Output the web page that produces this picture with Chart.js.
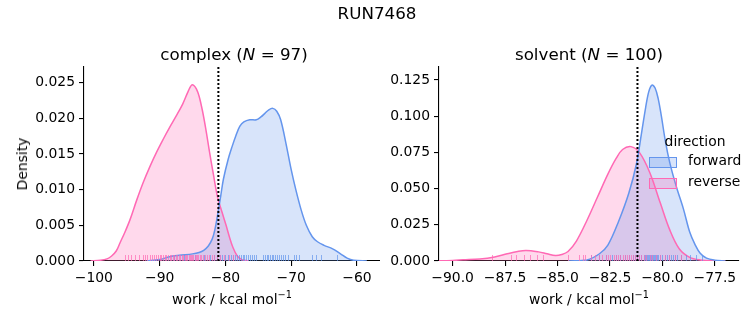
<!DOCTYPE html>
<html>
<head>
<meta charset="utf-8">
<script src="https://cdn.jsdelivr.net/npm/chart.js@4.4.1/dist/chart.umd.min.js"></script>
<style>
  body { margin: 0; width: 753px; height: 325px; position: relative; background: #fff; overflow: hidden;
         font-family: 'DejaVu Sans', sans-serif; color: #000; }
  canvas { position: absolute; top: 0; }
  .lbl { position: absolute; transform: translate(-50%, -50%); white-space: nowrap; z-index: 2; }
  .lbl sup { font-size: 70%; line-height: 0; }
</style>
</head>
<body>
<canvas id="chartL" width="380" height="325" style="left:0"></canvas>
<canvas id="chartR" width="373" height="325" style="left:380px"></canvas>

<div class="lbl" style="left:377px; top:13px; font-size:16.7px;">RUN7468</div>
<div class="lbl" style="left:234px; top:54px; font-size:16.7px;">complex (<i>N</i> = 97)</div>
<div class="lbl" style="left:589px; top:54px; font-size:16.7px;">solvent (<i>N</i> = 100)</div>
<div class="lbl" style="left:232px; top:299px; font-size:13.9px;">work / kcal mol<sup>&minus;1</sup></div>
<div class="lbl" style="left:589px; top:299px; font-size:13.9px;">work / kcal mol<sup>&minus;1</sup></div>
<div class="lbl" style="left:22px; top:164px; font-size:13.9px; transform:translate(-50%,-50%) rotate(-90deg);">Density</div>

<script>
// ---- complex leg: KDE curves ----
const complexFwdWork = [-92, -90, -88.5, -87, -85, -84, -83.3, -82.6, -82.0, -81.6, -81.2, -80.7, -80.3, -79.6, -79.0, -78.4, -77.8, -77.2, -76.3, -75.3, -74.6, -74.0, -73.4, -72.8, -72.2, -71.6, -70.8, -70.0, -69.3, -68.5, -67.7, -66.8, -66.0, -65.0, -63.7, -62.5, -61.5, -60.5, -58.5];
const complexFwdDensity = [0, 0.0002, 0.0006, 0.0008, 0.0010, 0.0012, 0.0015, 0.0021, 0.0031, 0.0044, 0.0064, 0.0092, 0.0115, 0.0142, 0.0160, 0.0176, 0.0189, 0.0195, 0.0198, 0.0198, 0.0202, 0.0207, 0.0212, 0.0214, 0.0210, 0.0198, 0.0165, 0.0128, 0.0100, 0.0072, 0.0050, 0.0034, 0.0027, 0.0022, 0.0017, 0.0010, 0.0004, 0.0001, 0];

const complexRevWork = [-100.5, -99, -98, -97.3, -96.6, -96.0, -95.3, -94.5, -93.5, -92.5, -91.5, -90.5, -89.5, -88.5, -87.5, -86.5, -85.8, -85.4, -85.1, -84.8, -84.4, -84.0, -83.5, -83.0, -82.4, -81.8, -81.2, -80.5, -79.9, -79.4, -78.9, -78.2, -77.5, -76.5];
const complexRevDensity = [0, 0.0001, 0.0003, 0.0007, 0.0014, 0.0026, 0.0040, 0.0058, 0.0085, 0.0110, 0.0132, 0.0152, 0.0170, 0.0187, 0.0203, 0.0220, 0.0235, 0.0243, 0.0247, 0.0246, 0.0241, 0.0231, 0.0211, 0.0186, 0.0152, 0.0120, 0.0090, 0.0068, 0.0050, 0.0034, 0.0020, 0.0007, 0.0002, 0];

// ---- solvent leg ----
const solventFwdWork = [-84.5, -83.6, -83.0, -82.6, -82.1, -81.6, -81.24, -81.0, -80.8, -80.65, -80.5, -80.35, -80.2, -80.05, -79.85, -79.65, -79.35, -79.0, -78.7, -78.45, -78.2, -77.9, -77.5, -77.0];
const solventFwdDensity = [0, 0.0007, 0.0050, 0.0110, 0.0270, 0.0470, 0.0670, 0.0880, 0.1060, 0.1170, 0.1215, 0.1195, 0.1120, 0.1000, 0.0820, 0.0680, 0.0520, 0.0360, 0.0200, 0.0115, 0.0053, 0.0020, 0.0006, 0];

const solventRevWork = [-91, -90, -89.5, -88.7, -88.0, -87.45, -86.9, -86.5, -85.9, -85.5, -85.1, -84.8, -84.5, -84.1, -83.6, -83.1, -82.6, -82.2, -81.9, -81.5, -81.1, -80.6, -80.1, -79.65, -79.2, -78.7, -78.2, -77.5, -77.0];
const solventRevDensity = [0, 0.0004, 0.0008, 0.0014, 0.0028, 0.0048, 0.0066, 0.0073, 0.0063, 0.0050, 0.0038, 0.0045, 0.0066, 0.0138, 0.0280, 0.0440, 0.0600, 0.0710, 0.0770, 0.0790, 0.0750, 0.0610, 0.0400, 0.0215, 0.0085, 0.0025, 0.0007, 0.0001, 0];

// rug samples (estimated positions)
const complexFwdRug = [-87.8, -86.3, -84.6, -83.2, -82.4, -81.8, -81.3, -80.9, -80.5, -80.1, -79.6, -79.2, -78.9, -78.6, -78.3, -78.0, -77.7, -77.4, -77.1, -76.8, -76.5, -76.3, -76.0, -75.7, -75.4, -74.3, -74.0, -73.7, -73.5, -73.2, -72.9, -72.7, -72.4, -72.1, -71.8, -71.5, -71.2, -70.9, -70.5, -69.6, -69.2, -68.8, -66.9, -66.2, -65.4, -63.1];
const complexRevRug = [-95.3, -94.8, -94.3, -93.8, -93.1, -92.6, -92.2, -91.9, -91.5, -91.2, -90.9, -90.6, -90.3, -90.0, -89.8, -89.5, -89.2, -89.0, -88.7, -88.5, -88.2, -88.0, -87.8, -87.5, -87.3, -87.1, -86.9, -86.6, -86.4, -86.2, -86.0, -85.8, -85.6, -85.4, -85.3, -85.1, -84.9, -84.7, -84.5, -84.3, -84.1, -83.9, -83.7, -83.4, -83.1, -82.8, -82.5, -82.1, -81.7, -81.3, -80.8, -80.2, -79.5, -78.9];
const solventFwdRug = [-83.4, -83.0, -82.7, -82.4, -82.2, -82.0, -81.8, -81.6, -81.4, -81.3, -81.2, -81.1, -81.0, -80.9, -80.85, -80.8, -80.75, -80.7, -80.65, -80.6, -80.55, -80.5, -80.45, -80.4, -80.35, -80.3, -80.25, -80.2, -80.1, -80.0, -79.9, -79.8, -79.7, -79.6, -79.5, -79.4, -79.3, -79.1, -78.9, -78.7, -78.4, -78.1];
const solventRevRug = [-88.1, -87.2, -87.0, -86.6, -86.3, -86.0, -85.7, -84.5, -84.0, -83.8, -83.7, -83.4, -83.2, -83.0, -82.9, -82.7, -82.6, -82.5, -82.3, -82.2, -82.1, -82.0, -81.9, -81.8, -81.7, -81.6, -81.5, -81.4, -81.3, -81.2, -81.1, -81.0, -80.9, -80.8, -80.6, -80.5, -80.3, -80.1, -79.9, -79.7, -79.4, -79.1];

// free energy estimate (dotted line)
const complexEstimate = -81.07;
const solventEstimate = -81.19;

// ticks
const complexWorkTicks = [-100, -90, -80, -70, -60];
const complexDensityTicks = [0, 0.005, 0.010, 0.015, 0.020, 0.025];
const solventWorkTicks = [-90, -87.5, -85, -82.5, -80, -77.5];
const solventDensityTicks = [0, 0.025, 0.050, 0.075, 0.100, 0.125];

const directions = ['forward', 'reverse'];
const lineColors = ['#6495ed', '#ff69b4'];
const fillColors = ['rgba(100,149,237,0.25)', 'rgba(255,105,180,0.25)'];
const rugColors = ['rgba(100,149,237,0.7)', 'rgba(255,105,180,0.7)'];

Chart.defaults.font.family = "'DejaVu Sans', sans-serif";
Chart.defaults.font.size = 13.9;
Chart.defaults.color = '#000';

const minus = s => s.replace('-', '\u2212');

const rugPlugin = {
    id: 'rug',
    afterDatasetsDraw(chart, args, opts) {
        const { ctx, chartArea, scales } = chart;
        ctx.save();
        ctx.lineWidth = 1;
        opts.sets.forEach((vals, i) => {
            ctx.strokeStyle = rugColors[i];
            vals.forEach(v => {
                const x = Math.round(scales.x.getPixelForValue(v)) + 0.5;
                ctx.beginPath();
                ctx.moveTo(x, chartArea.bottom);
                ctx.lineTo(x, chartArea.bottom - 6);
                ctx.stroke();
            });
        });
        // dotted estimate line
        const xv = scales.x.getPixelForValue(opts.estimate);
        ctx.strokeStyle = '#000';
        ctx.lineWidth = 2;
        ctx.setLineDash([2, 2]);
        ctx.beginPath();
        ctx.moveTo(xv, chartArea.top);
        ctx.lineTo(xv, chartArea.bottom);
        ctx.stroke();
        ctx.restore();
    }
};

const legendPlugin = {
    id: 'dirLegend',
    afterDraw(chart, args, opts) {
        if (!opts.show) return;
        const ctx = chart.ctx;
        ctx.save();
        ctx.font = "13.9px 'DejaVu Sans'";
        ctx.fillStyle = '#000';
        ctx.textBaseline = 'middle';
        ctx.textAlign = 'center';
        ctx.fillText('direction', 315, 142);
        ctx.textAlign = 'left';
        directions.forEach((d, i) => {
            const y = 157.5 + i * 21;
            ctx.fillStyle = fillColors[i];
            ctx.fillRect(269.5, y, 27, 10);
            ctx.strokeStyle = lineColors[i];
            ctx.lineWidth = 1;
            ctx.strokeRect(269.5, y, 27, 10);
            ctx.fillStyle = '#000';
            ctx.fillText(d, 308, y + 4);
        });
        ctx.restore();
    }
};

function makeChart(id, curves, rugs, estimate, xr, xTicks, xFmt, ymax, yTicks, yWidth, padRight, showLegend) {
    const datasets = curves.map((c, i) => ({
        label: directions[i],
        data: c[0].map((w, k) => ({ x: w, y: c[1][k] })),
        borderColor: lineColors[i],
        backgroundColor: fillColors[i],
        borderWidth: 1.5,
        pointRadius: 0,
        fill: 'origin',
        tension: 0.35
    }));
    return new Chart(document.getElementById(id), {
        type: 'line',
        data: { datasets },
        plugins: [rugPlugin, legendPlugin],
        options: {
            responsive: false,
            animation: false,
            devicePixelRatio: 1,
            layout: { padding: { top: 67, right: padRight, bottom: 0, left: 0 } },
            plugins: {
                legend: { display: false },
                tooltip: { enabled: false },
                filler: { drawTime: 'beforeDatasetsDraw' },
                rug: { sets: rugs, estimate: estimate },
                dirLegend: { show: showLegend }
            },
            scales: {
                x: {
                    type: 'linear', min: xr[0], max: xr[1],
                    afterBuildTicks: s => { s.ticks = xTicks.map(v => ({ value: v })); },
                    afterFit: s => { s.height = 64; },
                    grid: { drawOnChartArea: false, tickLength: 5, tickColor: '#000', lineWidth: 1.1 },
                    border: { color: '#000', width: 1.1 },
                    ticks: { padding: 4, maxRotation: 0, callback: xFmt }
                },
                y: {
                    min: 0, max: ymax,
                    afterBuildTicks: s => { s.ticks = yTicks.map(v => ({ value: v })); },
                    afterFit: s => { s.width = yWidth; },
                    grid: { drawOnChartArea: false, tickLength: 5, tickColor: '#000', lineWidth: 1.1 },
                    border: { color: '#000', width: 1.1 },
                    ticks: { padding: 4, callback: v => v.toFixed(3) }
                }
            }
        }
    });
}

makeChart('chartL',
    [[complexFwdWork, complexFwdDensity], [complexRevWork, complexRevDensity]],
    [complexFwdRug, complexRevRug], complexEstimate,
    [-101.5, -56.5], complexWorkTicks, v => minus(String(v)),
    0.0272, complexDensityTicks, 84, 0, false);

makeChart('chartR',
    [[solventFwdWork, solventFwdDensity], [solventRevWork, solventRevDensity]],
    [solventFwdRug, solventRevRug], solventEstimate,
    [-90.65, -76.35], solventWorkTicks, v => minus(v.toFixed(1)),
    0.134, solventDensityTicks, 59, 14, true);
</script>
</body>
</html>
